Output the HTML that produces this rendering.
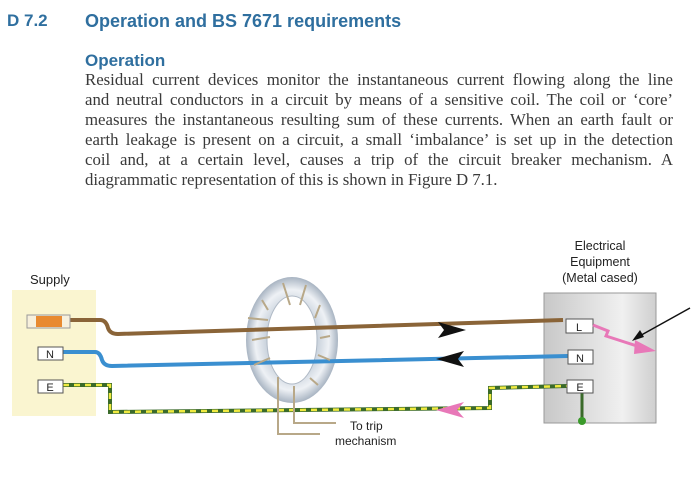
<!DOCTYPE html><html><head><style>
body{margin:0;width:700px;height:480px;background:#fff;position:relative;overflow:hidden;font-family:"Liberation Sans",sans-serif}
.h{position:absolute;color:#2f6f9f;font-weight:bold}
.p{position:absolute;left:85px;top:70px;width:588px;font-family:"Liberation Serif",serif;font-size:16.8px;line-height:20px;color:#3a3a3a}
.p div{text-align:justify;text-align-last:justify;white-space:nowrap}
.p div.l{text-align-last:left}
</style></head><body>
<div class="h" style="left:7px;top:11px;font-size:17px">D 7.2</div>
<div class="h" style="left:85px;top:11px;font-size:18px">Operation and BS 7671 requirements</div>
<div class="h" style="left:85px;top:51px;font-size:17px">Operation</div>
<div class="p">
<div>Residual current devices monitor the instantaneous current flowing along the line</div>
<div>and neutral conductors in a circuit by means of a sensitive coil. The coil or ‘core’</div>
<div>measures the instantaneous resulting sum of these currents. When an earth fault or</div>
<div>earth leakage is present on a circuit, a small ‘imbalance’ is set up in the detection</div>
<div>coil and, at a certain level, causes a trip of the circuit breaker mechanism. A</div>
<div class="l">diagrammatic representation of this is shown in Figure D 7.1.</div>
</div>
<svg width="700" height="480" style="position:absolute;left:0;top:0" font-family="Liberation Sans,sans-serif">
<defs><radialGradient id="t" cx="50%" cy="50%" r="50%"><stop offset="55%" stop-color="#c9d2dc"/><stop offset="80%" stop-color="#eef1f5"/><stop offset="100%" stop-color="#a8b4c2"/></radialGradient>
<linearGradient id="b" x1="0" x2="1"><stop offset="0" stop-color="#c8c8c8"/><stop offset=".7" stop-color="#f0f0f0"/><stop offset="1" stop-color="#cfcfcf"/></linearGradient></defs>
<rect x="12" y="290" width="84" height="126" fill="#faf5d0"/>
<text x="30" y="284" font-size="13" fill="#222">Supply</text>
<text x="600" y="250" font-size="12.5" text-anchor="middle" fill="#222">Electrical</text>
<text x="600" y="266" font-size="12.5" text-anchor="middle" fill="#222">Equipment</text>
<text x="600" y="282" font-size="12.5" text-anchor="middle" fill="#222">(Metal cased)</text>
<rect x="544" y="293" width="112" height="130" fill="url(#b)" stroke="#999"/>
<ellipse cx="292" cy="340" rx="46" ry="63" fill="url(#t)"/>
<ellipse cx="292" cy="340" rx="25" ry="44" fill="#fff" stroke="#b0bac6"/>
<path d="M70 320 H100 Q106 320 108 328 Q110 334 118 334 L563 320" stroke="#8a6438" stroke-width="4" fill="none"/>
<path d="M63 352 H95 Q100 352 102 360 Q104 366 112 366 L568 356" stroke="#3a8fd0" stroke-width="4" fill="none"/>
<path d="M63 385 H110 V412 L490 408 V388 L567 386" stroke="#3a6a2a" stroke-width="4" fill="none"/>
<path d="M63 385 H110 V412 L490 408 V388 L567 386" stroke="#f0ea40" stroke-width="2.5" stroke-dasharray="6 5" fill="none"/>
<path d="M582 393 V421" stroke="#3a6a2a" stroke-width="3"/><circle cx="582" cy="421" r="4" fill="#3a9a2a"/>
<g stroke="#b8a888" stroke-width="2" fill="none">
<path d="M278 377 V434 H320"/><path d="M294 386 V423 H336"/>
<path d="M262 300 L268 310 M283 283 L290 305 M306 285 L300 305 M320 305 L315 318 M330 336 L320 338 M330 360 L318 355 M318 385 L310 378 M252 340 L270 337 M254 365 L270 358 M248 318 L268 320"/></g>
<text x="350" y="430" font-size="12" fill="#222">To trip</text>
<text x="335" y="445" font-size="12" fill="#222">mechanism</text>
<rect x="27" y="315" width="43" height="13" fill="#f7f0dc" stroke="#999"/>
<rect x="36" y="316" width="26" height="11" fill="#e88a30"/>
<g fill="#fff" stroke="#555" font-size="11" text-anchor="middle">
<rect x="38" y="347" width="25" height="13"/><rect x="38" y="380" width="25" height="13"/>
<rect x="566" y="319" width="27" height="14"/><rect x="568" y="350" width="25" height="14"/><rect x="567" y="380" width="26" height="13"/></g>
<g font-size="11" text-anchor="middle" fill="#222"><text x="50" y="358">N</text><text x="50" y="391">E</text><text x="579" y="331">L</text><text x="580" y="362">N</text><text x="580" y="391">E</text></g>
<path d="M438 322 L466 330 L438 338 L444 330Z" fill="#111"/>
<path d="M464 351 L436 359 L464 367 L458 359Z" fill="#111"/>
<path d="M464 402 L436 410 L464 418 L457 410Z" fill="#e878b8"/>
<path d="M593 325 L608 331 L606 336 L640 347" stroke="#e878b8" stroke-width="3" fill="none"/>
<path d="M635 340 L656 351 L634 354Z" fill="#e878b8"/>
<path d="M690 308 L636 338" stroke="#111" stroke-width="1.5"/><path d="M632 341 L640 330 L644 337Z" fill="#111"/>
</svg>
</body></html>
